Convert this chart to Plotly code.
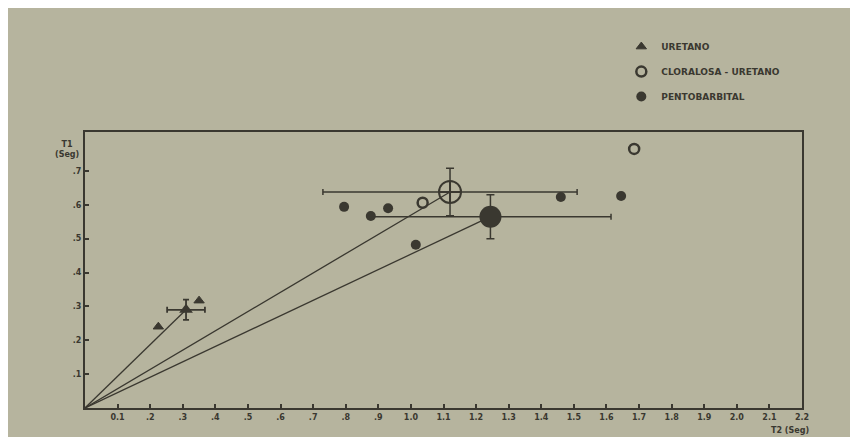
import plotly.graph_objects as go

# ---- data ----
x_ticks = [0.1, 0.2, 0.3, 0.4, 0.5, 0.6, 0.7, 0.8, 0.9, 1.0, 1.1, 1.2, 1.3, 1.4,
           1.5, 1.6, 1.7, 1.8, 1.9, 2.0, 2.1, 2.2]
x_tick_labels = ["0.1", ".2", ".3", ".4", ".5", ".6", ".7", ".8", ".9", "1.0", "1.1",
                 "1.2", "1.3", "1.4", "1.5", "1.6", "1.7", "1.8", "1.9", "2.0", "2.1", "2.2"]
y_ticks = [0.1, 0.2, 0.3, 0.4, 0.5, 0.6, 0.7]
y_tick_labels = [".1", ".2", ".3", ".4", ".5", ".6", ".7"]

uretano_x = [0.225, 0.35]
uretano_y = [0.24, 0.317]
uretano_mean_x = [0.31]
uretano_mean_y = [0.29]
uretano_err_x = [0.058]
uretano_err_y = [0.03]

cloralosa_x = [1.036, 1.685]
cloralosa_y = [0.606, 0.765]
cloralosa_mean_x = [1.12]
cloralosa_mean_y = [0.638]
cloralosa_err_x = [0.39]
cloralosa_err_y = [0.07]

pento_x = [0.795, 0.93, 0.877, 1.015, 1.46, 1.645]
pento_y = [0.594, 0.59, 0.567, 0.482, 0.623, 0.626]
pento_mean_x = [1.244]
pento_mean_y = [0.565]
pento_err_x = [0.37]
pento_err_y = [0.065]

legend_names = ["URETANO", "CLORALOSA - URETANO", "PENTOBARBITAL"]

INK = "#3a3830"
PAPER = "#b6b49e"
FONT = "DejaVu Sans"

fig = go.Figure()

# lines from origin to each mean
for mx, my in [(uretano_mean_x, uretano_mean_y),
               (cloralosa_mean_x, cloralosa_mean_y),
               (pento_mean_x, pento_mean_y)]:
    fig.add_trace(go.Scatter(x=[0] + mx, y=[0] + my, mode="lines",
                             line=dict(color=INK, width=1.3), showlegend=False,
                             hoverinfo="skip"))

# mean points with error bars
fig.add_trace(go.Scatter(
    x=uretano_mean_x, y=uretano_mean_y, mode="markers", showlegend=False,
    marker=dict(symbol="triangle-up", size=12, color=INK),
    error_x=dict(type="data", array=uretano_err_x, color=INK, thickness=1.8, width=3),
    error_y=dict(type="data", array=uretano_err_y, color=INK, thickness=1.8, width=3)))
fig.add_trace(go.Scatter(
    x=cloralosa_mean_x, y=cloralosa_mean_y, mode="markers", showlegend=False,
    marker=dict(symbol="circle-cross-open", size=22, color=INK, line=dict(width=2)),
    error_x=dict(type="data", array=cloralosa_err_x, color=INK, thickness=1.5, width=3),
    error_y=dict(type="data", array=cloralosa_err_y, color=INK, thickness=1.5, width=4)))
fig.add_trace(go.Scatter(
    x=pento_mean_x, y=pento_mean_y, mode="markers", showlegend=False,
    marker=dict(symbol="circle", size=22, color=INK),
    error_x=dict(type="data", array=pento_err_x, color=INK, thickness=1.5, width=3),
    error_y=dict(type="data", array=pento_err_y, color=INK, thickness=1.5, width=4)))

# individual points (also legend entries)
fig.add_trace(go.Scatter(
    x=uretano_x, y=uretano_y, mode="markers", name=legend_names[0], legendgroup="a",
    marker=dict(symbol="triangle-up", size=9, color=INK,
                line=dict(color=INK, width=1))))
fig.add_trace(go.Scatter(
    x=cloralosa_x, y=cloralosa_y, mode="markers", name=legend_names[1], legendgroup="b",
    marker=dict(symbol="circle-open", size=10, color=INK, line=dict(width=2.5))))
fig.add_trace(go.Scatter(
    x=pento_x, y=pento_y, mode="markers", name=legend_names[2], legendgroup="c",
    marker=dict(symbol="circle", size=10, color=INK)))

fig.add_annotation(text="<b>T1<br>(Seg)</b>", x=-0.025, y=0.935, xref="paper", yref="paper",
                   showarrow=False, font=dict(family=FONT, size=8, color=INK),
                   xanchor="center", yanchor="middle")
fig.add_annotation(text="<b>T2 (Seg)</b>", x=0.983, y=-0.08, xref="paper", yref="paper",
                   showarrow=False, font=dict(family=FONT, size=8, color=INK),
                   xanchor="center", yanchor="middle")

axis_common = dict(showgrid=False, zeroline=False, showline=True, linecolor=INK,
                   linewidth=2, mirror=True, ticks="inside", ticklen=4,
                   tickcolor=INK, tickwidth=1.5,
                   tickfont=dict(family=FONT, size=8, color=INK, weight="bold"))

fig.update_layout(
    width=850, height=429,
    margin=dict(l=77, r=56, t=124, b=29),
    paper_bgcolor=PAPER, plot_bgcolor=PAPER,
    xaxis=dict(range=[0, 2.2], tickvals=x_ticks, ticktext=x_tick_labels, **axis_common),
    yaxis=dict(range=[0, 0.815], tickvals=y_ticks, ticktext=y_tick_labels, **axis_common),
    legend=dict(x=0.748, y=1.362, xanchor="left", yanchor="top", bgcolor="rgba(0,0,0,0)",
                font=dict(family=FONT, size=9, color=INK, weight="bold"), tracegroupgap=6,
                itemwidth=30),
    font=dict(family=FONT, color=INK),
)

fig.write_html("out.html")
